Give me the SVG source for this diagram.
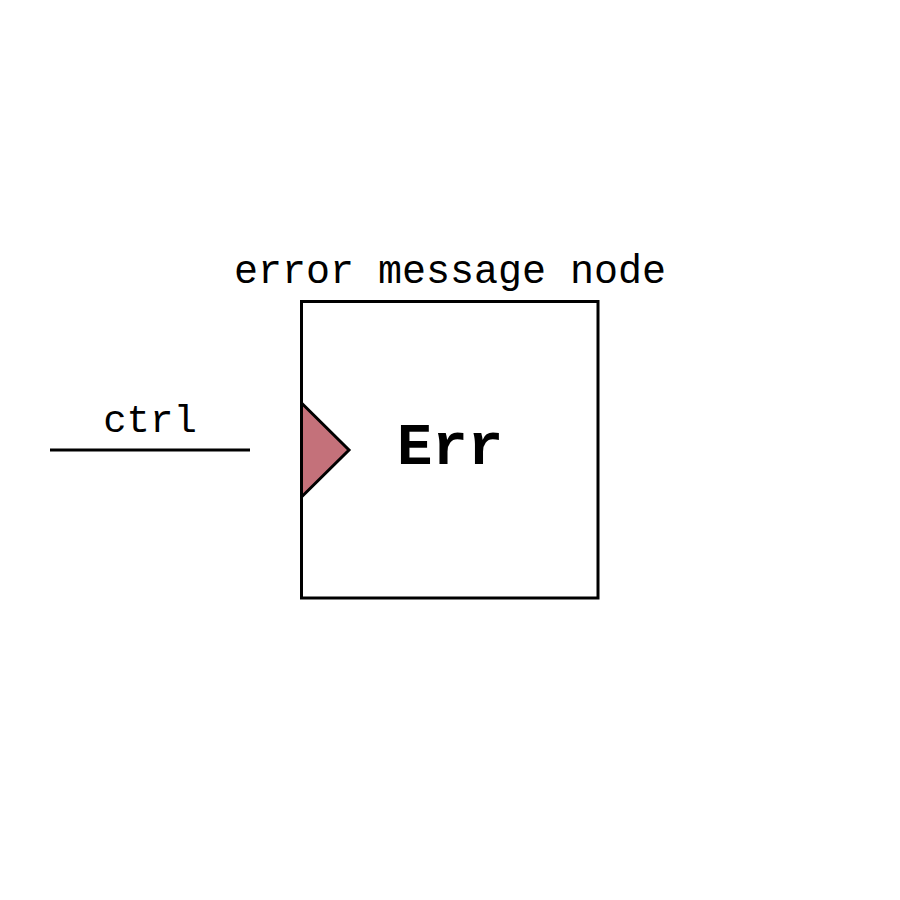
<svg xmlns="http://www.w3.org/2000/svg" width="900" height="900" viewBox="0 0 900 900">
<style>
.t{font-family:"Liberation Mono","Courier New",monospace;fill:#000;text-anchor:middle}
.ln{stroke:#000;stroke-width:3;fill:none}
</style>
<rect width="900" height="900" fill="#fff"/>
<g id="connectors">
<line class="ln" x1="50" y1="450" x2="250" y2="450"/>
<text class="t" x="150" y="432" font-size="39">ctrl</text>
</g>
<g id="err-node">
<text class="t" x="450" y="283" font-size="40">error message node</text>
<rect x="301.5" y="301.5" width="296.5" height="296.5" fill="#fff" stroke="#000" stroke-width="3"/>
<polygon points="301.5,403 349,450 301.5,497" fill="#c4717a" stroke="#000" stroke-width="3" stroke-linejoin="miter"/>
<text class="t" x="450" y="464" font-size="59" font-weight="bold">Err</text>
</g>
</svg>
